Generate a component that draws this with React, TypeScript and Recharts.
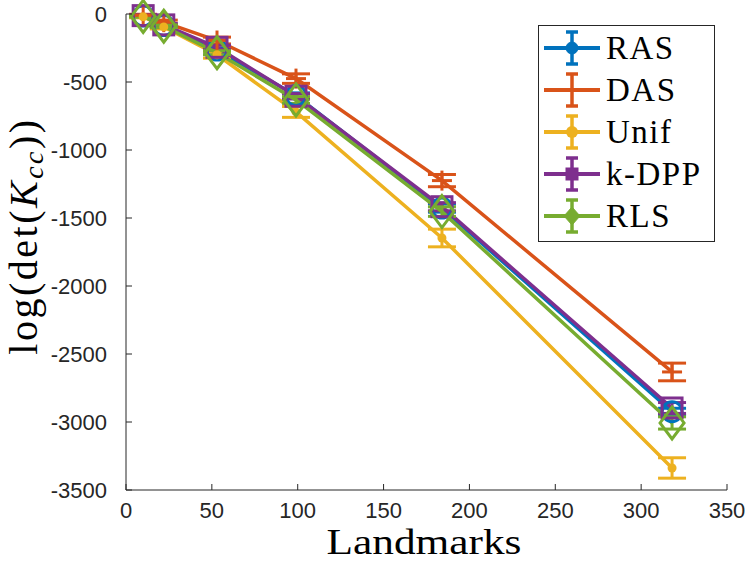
import React from 'react';
import { LineChart, Line, XAxis, YAxis, ErrorBar, Legend, Label } from 'recharts';

const landmarks = [10, 22, 53, 99, 184, 318];

const rasMean = [-15, -85, -265, -600, -1427, -2924];
const rasErr = [5, 10, 15, 20, 30, 25];
const dasMean = [-10, -60, -195, -475, -1225, -2632];
const dasErr = [8, 15, 25, 35, 45, 65];
const unifMean = [-20, -95, -300, -720, -1647, -3338];
const unifErr = [8, 15, 25, 40, 65, 75];
const kdppMean = [-12, -80, -245, -605, -1417, -2897];
const kdppErr = [5, 10, 15, 20, 30, 40];
const rlsMean = [-18, -90, -285, -632, -1453, -3007];
const rlsErr = [5, 10, 15, 25, 35, 45];

const xTicks = [0, 50, 100, 150, 200, 250, 300, 350];
const yTicks = [-3500, -3000, -2500, -2000, -1500, -1000, -500, 0];

const series = [
  { key: 'RAS', name: 'RAS', color: '#0072BD', mean: rasMean, err: rasErr, marker: 'circle' },
  { key: 'DAS', name: 'DAS', color: '#D95319', mean: dasMean, err: dasErr, marker: 'plus' },
  { key: 'Unif', name: 'Unif', color: '#EDB120', mean: unifMean, err: unifErr, marker: 'dot' },
  { key: 'kDPP', name: 'k-DPP', color: '#7E2F8E', mean: kdppMean, err: kdppErr, marker: 'square' },
  { key: 'RLS', name: 'RLS', color: '#77AC30', mean: rlsMean, err: rlsErr, marker: 'diamond' },
];

const data = landmarks.map((x, i) => {
  const row: Record<string, number> = { x };
  series.forEach((s) => {
    row[s.key] = s.mean[i];
    row[s.key + 'Err'] = s.err[i];
  });
  return row;
});

const AXIS = '#262626';
const SERIF = '"Liberation Serif", "DejaVu Serif", serif';
const SANS = '"Liberation Sans", Arial, sans-serif';

function markerShape(kind: string, cx: number, cy: number, color: string, legend: boolean, key?: string) {
  const sw = 3;
  if (kind === 'circle') {
    return legend
      ? <circle key={key} cx={cx} cy={cy} r={6} fill={color} stroke={color} strokeWidth={1} />
      : <circle key={key} cx={cx} cy={cy} r={10} fill="none" stroke={color} strokeWidth={sw} />;
  }
  if (kind === 'plus') {
    const h = legend ? 0 : 10;
    return (
      <g key={key}>
        {h > 0 && <line x1={cx - h} y1={cy} x2={cx + h} y2={cy} stroke={color} strokeWidth={sw} />}
        {h > 0 && <line x1={cx} y1={cy - h} x2={cx} y2={cy + h} stroke={color} strokeWidth={sw} />}
      </g>
    );
  }
  if (kind === 'dot') {
    return <circle key={key} cx={cx} cy={cy} r={legend ? 6 : 4.5} fill={color} stroke="none" />;
  }
  if (kind === 'square') {
    const h = legend ? 6 : 10;
    return legend
      ? <rect key={key} x={cx - h} y={cy - h} width={2 * h} height={2 * h} fill={color} stroke={color} strokeWidth={1} />
      : <rect key={key} x={cx - h} y={cy - h} width={2 * h} height={2 * h} fill="none" stroke={color} strokeWidth={sw} />;
  }
  const w = legend ? 8 : 12;
  const hh = legend ? 9 : 16;
  const pts = `${cx},${cy - hh} ${cx + w},${cy} ${cx},${cy + hh} ${cx - w},${cy}`;
  return legend
    ? <polygon key={key} points={pts} fill={color} stroke={color} strokeWidth={1} />
    : <polygon key={key} points={pts} fill="none" stroke={color} strokeWidth={sw} strokeLinejoin="miter" />;
}

const makeDot = (kind: string, color: string, name: string) => (props: any) => {
  const { cx, cy, index } = props;
  if (cx == null || cy == null) return <g key={`${name}-${index}`} />;
  return markerShape(kind, cx, cy, color, false, `${name}-${index}`);
};

const XTick = (props: any) => {
  const { x, y, payload } = props;
  return (
    <g>
      <line x1={x} y1={y} x2={x} y2={y - 6} stroke={AXIS} strokeWidth={1} />
      <text x={x} y={y + 28} textAnchor="middle" fontFamily={SANS} fontSize={22} fill={AXIS}>
        {payload.value}
      </text>
    </g>
  );
};

const YTick = (props: any) => {
  const { x, y, payload } = props;
  return (
    <g>
      <line x1={x} y1={y} x2={x + 6} y2={y} stroke={AXIS} strokeWidth={1} />
      <text x={x - 19} y={y + 8} textAnchor="end" fontFamily={SANS} fontSize={22} fill={AXIS}>
        {payload.value}
      </text>
    </g>
  );
};

const LegendBox = () => {
  const rowH = 42;
  const first = 23;
  return (
    <svg width={178} height={218} style={{ display: 'block' }}>
      <rect x={0.5} y={0.5} width={176} height={216} fill="#fff" stroke={AXIS} strokeWidth={1} />
      {series.map((s, i) => {
        const cy = first + i * rowH;
        const cx = 34;
        return (
          <g key={s.key}>
            <line x1={6} y1={cy} x2={62} y2={cy} stroke={s.color} strokeWidth={4} />
            <line x1={cx} y1={cy - 16} x2={cx} y2={cy + 16} stroke={s.color} strokeWidth={3.5} />
            <line x1={cx - 6} y1={cy - 16} x2={cx + 6} y2={cy - 16} stroke={s.color} strokeWidth={3.5} />
            <line x1={cx - 6} y1={cy + 16} x2={cx + 6} y2={cy + 16} stroke={s.color} strokeWidth={3.5} />
            {markerShape(s.marker, cx, cy, s.color, true)}
            <text x={68} y={cy + 11} fontFamily={SERIF} fontSize={33} letterSpacing={1.5} fill="#000">
              {s.name}
            </text>
          </g>
        );
      })}
    </svg>
  );
};

export default function App() {
  return (
    <div style={{ position: 'absolute', left: 0, top: 0, width: 747, height: 562, background: '#fff' }}>
      <LineChart width={747} height={562} data={data} margin={{ top: 14, right: 20, bottom: 42, left: 66 }}>
        <XAxis
          type="number"
          dataKey="x"
          domain={[0, 350]}
          ticks={xTicks}
          interval={0}
          height={30}
          tickLine={false}
          tickSize={0}
          tickMargin={0}
          tick={<XTick />}
          axisLine={{ stroke: AXIS, strokeWidth: 1 }}
        >
          <Label
            content={() => (
              <text
                x={424}
                y={554}
                textAnchor="middle"
                fontFamily={SERIF}
                fontSize={36}
                textLength={195}
                lengthAdjust="spacingAndGlyphs"
                fill="#000"
              >
                Landmarks
              </text>
            )}
          />
        </XAxis>
        <YAxis
          type="number"
          domain={[-3500, 0]}
          ticks={yTicks}
          interval={0}
          width={60}
          tickLine={false}
          tickSize={0}
          tickMargin={0}
          tick={<YTick />}
          axisLine={{ stroke: AXIS, strokeWidth: 1 }}
        >
          <Label
            content={() => (
              <text
                transform="rotate(-90)"
                x={-236}
                y={37}
                textAnchor="middle"
                fontFamily={SERIF}
                fontSize={40}
                letterSpacing={2.5}
                fill="#000"
              >
                <tspan>log(det(</tspan>
                <tspan fontStyle="italic">K</tspan>
                <tspan fontStyle="italic" fontSize={28} dy={6}>cc</tspan>
                <tspan dy={-6}>))</tspan>
              </text>
            )}
          />
        </YAxis>
        {series.map((s) => (
          <Line
            key={s.key}
            type="linear"
            dataKey={s.key}
            name={s.name}
            stroke={s.color}
            strokeWidth={3.5}
            dot={makeDot(s.marker, s.color, s.key)}
            activeDot={false}
            isAnimationActive={false}
          >
            <ErrorBar dataKey={s.key + 'Err'} width={14} stroke={s.color} strokeWidth={3} direction="y" />
          </Line>
        ))}
        <Legend
          layout="horizontal"
          align="center"
          verticalAlign="middle"
          content={() => <LegendBox />}
          wrapperStyle={{ position: 'absolute', left: 538, top: 25, width: 178, height: 218 }}
        />
      </LineChart>
    </div>
  );
}
